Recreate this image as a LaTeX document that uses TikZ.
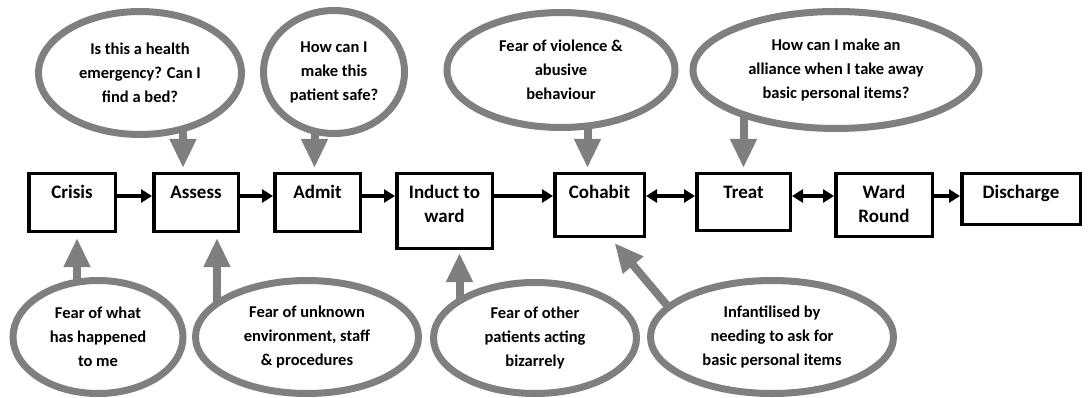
\documentclass[tikz,border=0pt]{standalone}
\usepackage{fontspec}
\setmainfont{Carlito}
\usepackage{tikz}
\usetikzlibrary{arrows.meta, positioning, shapes.geometric, backgrounds}
\definecolor{bubblegray}{HTML}{7F7F7F}

\begin{document}
\begin{tikzpicture}[x=1pt, y=-1pt, font=\bfseries\fontsize{16.5}{24}\selectfont,
    stage/.style={draw, line width=3.5pt, inner xsep=2pt, inner ysep=0pt, text height=25pt, align=center, anchor=north,
        font=\bfseries\fontsize{19}{24}\selectfont},
    bubble/.style={ellipse, draw=bubblegray, line width=7pt, fill=white, align=center, inner sep=0pt},
    flow/.style={line width=3.5pt, -{Triangle[length=11pt, width=13pt]}},
    twoway/.style={line width=3.5pt, {Triangle[length=11pt, width=13pt]}-{Triangle[length=11pt, width=13pt]}},
    pointer/.style={bubblegray, line width=8pt, -{Triangle[length=29pt, width=25pt]}}]
    \useasboundingbox (0, 0) rectangle (1091, 398);

    % ── PATHWAY ───────────────────────────────────────────────────────
    \node[stage, minimum width=86.5pt, text depth=32.5pt] (crisis) at (72, 172) {Crisis};
    \node[stage, minimum width=84.5pt, text depth=32.5pt] (assess) at (196, 172) {Assess};
    \node[stage, minimum width=85.5pt, text depth=32.5pt] (admit) at (317.5, 172) {Admit};
    \node[stage, minimum width=95.5pt, text height=49pt, text depth=25.5pt] (induct) at (444.5, 172) {Induct to\\ward};
    \node[stage, minimum width=89.5pt, text depth=37.5pt] (cohabit) at (599.5, 172) {Cohabit};
    \node[stage, minimum width=93.5pt, text depth=31.5pt] (treat) at (743.5, 172) {Treat};
    \node[stage, minimum width=96.5pt, text height=49pt, text depth=13.5pt] (ward) at (884, 172) {Ward\\Round};
    \node[stage, minimum width=118.5pt, text depth=25.5pt] (discharge) at (1021, 172) {Discharge};

    \draw[flow] ([yshift=-24pt]crisis.north east) -- ([yshift=-24pt]assess.north west);
    \draw[flow] ([yshift=-24pt]assess.north east) -- ([yshift=-24pt]admit.north west);
    \draw[flow] ([yshift=-24pt]admit.north east) -- ([yshift=-24pt]induct.north west);
    \draw[flow] ([yshift=-24pt]induct.north east) -- ([yshift=-24pt]cohabit.north west);
    \draw[twoway] ([yshift=-24pt]cohabit.north east) -- ([yshift=-24pt]treat.north west);
    \draw[twoway] ([yshift=-24pt]treat.north east) -- ([yshift=-24pt]ward.north west);
    \draw[flow] ([yshift=-24pt]ward.north east) -- ([yshift=-24pt]discharge.north west);

    % ── STAFF CONCERNS (above) ────────────────────────────────────────
    \node[bubble, minimum width=203pt, minimum height=123pt] (bed) at (140, 73) {Is this a health\\emergency? Can I\\find a bed?};
    \node[bubble, minimum width=141pt, minimum height=123pt] (safe) at (334, 72) {How can I\\make this\\patient safe?};
    \node[bubble, minimum width=228pt, minimum height=115pt] (violence) at (561, 70) {Fear of violence \&\\abusive\\behaviour};
    \node[bubble, minimum width=286pt, minimum height=117pt] (alliance) at (836, 70) {How can I make an\\alliance when I take away\\basic personal items?};

    % ── PATIENT CONCERNS (below) ──────────────────────────────────────
    \node[bubble, minimum width=170pt, minimum height=113pt] (happened) at (98, 337) {Fear of what\\has happened\\to me};
    \node[bubble, minimum width=223pt, minimum height=113pt] (unknown) at (307, 337) {Fear of unknown\\environment, staff\\\& procedures};
    \node[bubble, minimum width=203pt, minimum height=111pt] (bizarre) at (535, 338) {Fear of other\\patients acting\\bizarrely};
    \node[bubble, minimum width=243pt, minimum height=113pt] (infant) at (772, 337) {Infantilised by\\needing to ask for\\basic personal items};

    % Pointers sit behind the bubbles
    \begin{scope}[on background layer]
        \draw[pointer] ([xshift=-13pt]assess.north |- bed.center) -- ([xshift=-13pt, yshift=4pt]assess.north);
        \draw[pointer] ([xshift=-3pt]admit.north |- safe.center) -- ([xshift=-3pt, yshift=4pt]admit.north);
        \draw[pointer] ([xshift=-12pt]cohabit.north |- violence.center) -- ([xshift=-12pt, yshift=4pt]cohabit.north);
        \draw[pointer] (treat.north |- alliance.center) -- ([yshift=4pt]treat.north);

        \draw[pointer] ([xshift=5pt]crisis.south |- happened.center) -- ([xshift=5pt, yshift=-5pt]crisis.south);
        \draw[pointer] ([xshift=21pt]assess.south |- unknown.center) -- ([xshift=21pt, yshift=-5pt]assess.south);
        \draw[pointer] ([xshift=15pt]induct.south |- bizarre.center) -- ([xshift=15pt, yshift=-3pt]induct.south);
        \draw[pointer] ([xshift=-75pt, yshift=-4pt]infant.center) -- ([xshift=15pt, yshift=-5pt]cohabit.south);
    \end{scope}
\end{tikzpicture}
\end{document}
